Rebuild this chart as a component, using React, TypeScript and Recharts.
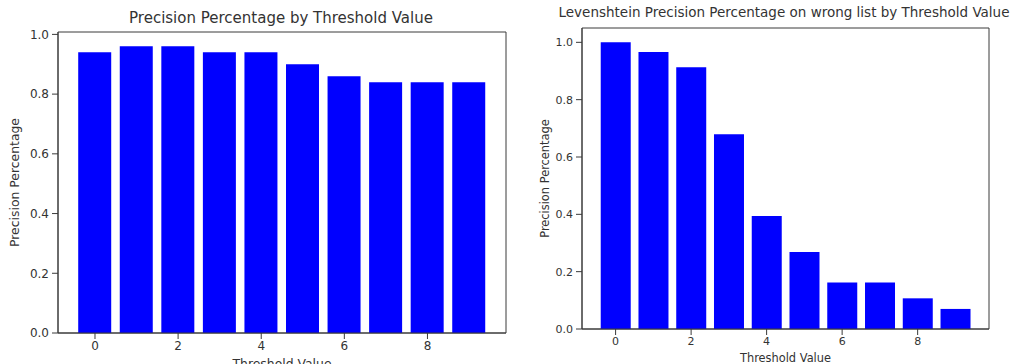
import { BarChart, Bar, XAxis, YAxis, ReferenceArea } from "recharts";

const thresholds = [0, 1, 2, 3, 4, 5, 6, 7, 8, 9];
const precisionAll = [0.94, 0.96, 0.96, 0.94, 0.94, 0.9, 0.86, 0.84, 0.84, 0.84];
const precisionWrong = [1.0, 0.966, 0.913, 0.679, 0.394, 0.269, 0.162, 0.162, 0.107, 0.07];
const xTicks = [0, 2, 4, 6, 8];
const yTicks = [0, 0.2, 0.4, 0.6, 0.8, 1.0];
const xDomain: [number, number] = [-0.89, 9.89];

const leftData = thresholds.map((t, i) => ({ t, v: precisionAll[i] }));
const rightData = thresholds.map((t, i) => ({ t, v: precisionWrong[i] }));

const FONT = "'DejaVu Sans', sans-serif";
const AXIS = "#3a3a3a";
const TEXT = "#333";

interface PanelProps {
  data: { t: number; v: number }[];
  title: string;
  left: number;
  width: number;
  plotLeft: number;
  plotRight: number;
  plotTop: number;
  plotBottom: number;
  yMax: number;
  barSize: number;
  tickFont: number;
  labelFont: number;
  titleFont: number;
  titleTop: number;
  titleCenter: number;
  yLabelX: number;
  xLabelOffset: number;
}

function Panel(p: PanelProps) {
  const height = 364;
  return (
    <div style={{ position: "absolute", left: p.left, top: 0, width: p.width, height }}>
      <div
        style={{
          position: "absolute",
          top: p.titleTop,
          left: p.titleCenter - 300,
          width: 600,
          textAlign: "center",
          fontFamily: FONT,
          fontSize: p.titleFont,
          color: TEXT,
          whiteSpace: "nowrap",
        }}
      >
        {p.title}
      </div>
      <BarChart
        width={p.width}
        height={height}
        data={p.data}
        margin={{ top: p.plotTop, right: p.width - p.plotRight, bottom: 0, left: 0 }}
        style={{ position: "absolute", left: 0, top: 0 }}
      >
        <XAxis
          dataKey="t"
          type="number"
          domain={xDomain}
          ticks={xTicks}
          allowDataOverflow
          height={height - p.plotBottom}
          stroke={AXIS}
          tickSize={6}
          tickMargin={2}
          tick={{ fill: TEXT, fontSize: p.tickFont, fontFamily: FONT }}
          label={{
            value: "Threshold Value",
            position: "insideTop",
            offset: p.xLabelOffset,
            fill: TEXT,
            fontSize: p.labelFont,
            fontFamily: FONT,
          }}
        />
        <YAxis
          type="number"
          domain={[0, p.yMax]}
          ticks={yTicks}
          allowDataOverflow
          width={p.plotLeft}
          stroke={AXIS}
          tickSize={6}
          tickMargin={3}
          tickFormatter={(v: number) => v.toFixed(1)}
          tick={{ fill: TEXT, fontSize: p.tickFont, fontFamily: FONT }}
          label={{
            value: "Precision Percentage",
            angle: -90,
            position: "insideLeft",
            offset: p.yLabelX,
            fill: TEXT,
            fontSize: p.labelFont,
            fontFamily: FONT,
            style: { textAnchor: "middle" },
          }}
        />
        <Bar dataKey="v" fill="#0000ff" barSize={p.barSize} isAnimationActive={false} />
        <ReferenceArea
          x1={xDomain[0]}
          x2={xDomain[1]}
          y1={0}
          y2={p.yMax}
          fill="none"
          stroke={AXIS}
          strokeWidth={1}
        />
      </BarChart>
    </div>
  );
}

export default function App() {
  return (
    <div style={{ position: "absolute", left: 0, top: 0, width: 1014, height: 364, background: "#fff", overflow: "hidden" }}>
      <Panel
        data={leftData}
        title="Precision Percentage by Threshold Value"
        left={0}
        width={507}
        plotLeft={58}
        plotRight={506}
        plotTop={32}
        plotBottom={333}
        yMax={1.008}
        barSize={33}
        tickFont={12}
        labelFont={12.4}
        titleFont={15}
        titleTop={9}
        titleCenter={281}
        yLabelX={15}
        xLabelOffset={26}
      />
      <Panel
        data={rightData}
        title="Levenshtein Precision Percentage on wrong list by Threshold Value"
        left={507}
        width={507}
        plotLeft={75}
        plotRight={482}
        plotTop={28}
        plotBottom={329}
        yMax={1.05}
        barSize={30}
        tickFont={11}
        labelFont={11.4}
        titleFont={13.5}
        titleTop={4}
        titleCenter={277}
        yLabelX={38}
        xLabelOffset={25}
      />
    </div>
  );
}
